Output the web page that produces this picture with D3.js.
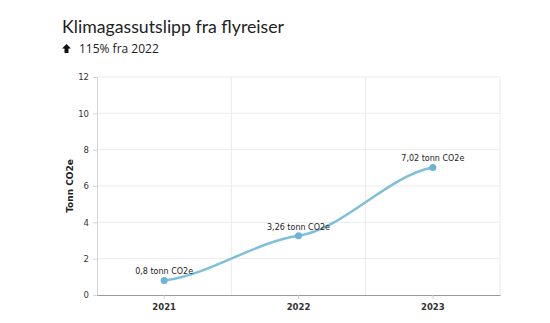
<!DOCTYPE html>
<html><head><meta charset="utf-8">
<script src="https://cdn.jsdelivr.net/npm/d3@7"></script>
<style>body{margin:0;background:#fff;}svg{display:block;}</style>
</head><body>
<svg id="c" width="550" height="323"></svg>
<script>
const years = ["2021", "2022", "2023"];
const values = [0.8, 3.26, 7.02];
const labels = ["0,8 tonn CO2e", "3,26 tonn CO2e", "7,02 tonn CO2e"];
const yTicks = [0, 2, 4, 6, 8, 10, 12];
const title = "Klimagassutslipp fra flyreiser";
const subtitle = "115% fra 2022";
const yTitle = "Tonn CO2e";

const svg = d3.select("#c");
const m = {l: 97, r: 500, t: 77, b: 295};
const x = d3.scaleBand().domain(years).range([m.l, m.r]);
const y = d3.scaleLinear().domain([0, 12]).range([m.b, m.t]);
const cx = d => x(d) + x.bandwidth() / 2;
const font = "Verdana, DejaVu Sans, sans-serif";

// grid
svg.append("g").selectAll("line").data(yTicks.filter(t => t > 0)).join("line")
  .attr("x1", m.l).attr("x2", m.r).attr("y1", d => y(d)).attr("y2", d => y(d))
  .attr("stroke", "#ebebeb").attr("stroke-width", 1);
svg.append("g").selectAll("line").data(years).join("line")
  .attr("x1", d => x(d) + x.bandwidth()).attr("x2", d => x(d) + x.bandwidth())
  .attr("y1", m.t).attr("y2", m.b).attr("stroke", "#ebebeb");

// y axis
const ya = svg.append("g").attr("transform", `translate(${m.l},0)`)
  .call(d3.axisLeft(y).tickValues(yTicks).tickSize(4).tickPadding(4));
ya.select(".domain").attr("stroke", "#d6d6d6");
ya.selectAll(".tick line").attr("stroke", "#d6d6d6");
ya.selectAll("text").attr("font-family", font).attr("font-size", 8.5).attr("fill", "#333");

// x axis
const xa = svg.append("g").attr("transform", `translate(0,${m.b})`)
  .call(d3.axisBottom(x).tickSize(4).tickPadding(5).tickSizeOuter(0));
xa.select(".domain").attr("stroke", "#9a9a9a");
xa.selectAll(".tick line").attr("stroke", "#cfcfcf");
xa.selectAll("text").attr("font-family", font).attr("font-size", 8.5).attr("font-weight", "bold").attr("fill", "#333");

// y title
svg.append("text").attr("transform", `translate(73,${(m.t + m.b) / 2}) rotate(-90)`)
  .attr("text-anchor", "middle").attr("font-family", font)
  .attr("font-size", 9).attr("font-weight", "bold").attr("fill", "#222").text(yTitle);

// smooth line: Hermite spline with damped tangents (S-shaped segments)
const pts = years.map((d, i) => [cx(d), y(values[i])]);
function smooth(p, f) {
  const n = p.length;
  const tan = p.map((pt, i) => {
    const a = p[Math.max(0, i - 1)], b = p[Math.min(n - 1, i + 1)];
    return f * (b[1] - a[1]) / (b[0] - a[0]);
  });
  const path = d3.path();
  path.moveTo(p[0][0], p[0][1]);
  for (let i = 1; i < n; i++) {
    const h = (p[i][0] - p[i - 1][0]) / 3;
    path.bezierCurveTo(p[i - 1][0] + h, p[i - 1][1] + tan[i - 1] * h,
                       p[i][0] - h, p[i][1] - tan[i] * h, p[i][0], p[i][1]);
  }
  return path.toString();
}
svg.append("path").attr("d", smooth(pts, 0.35))
  .attr("fill", "none").attr("stroke", "#7fbfdc").attr("stroke-width", 2.5);
svg.append("g").selectAll("circle").data(pts).join("circle")
  .attr("cx", d => d[0]).attr("cy", d => d[1]).attr("r", 3.5).attr("fill", "#6db3d6");
svg.append("g").selectAll("text").data(pts).join("text")
  .attr("x", d => d[0]).attr("y", d => d[1] - 6).attr("text-anchor", "middle")
  .attr("font-family", font).attr("font-size", 8).attr("fill", "#222")
  .text((d, i) => labels[i]);

// titles
svg.append("text").attr("x", 62).attr("y", 33).attr("font-family", "Lato, sans-serif")
  .attr("font-size", 18).attr("fill", "#222")
  .attr("textLength", 222).attr("lengthAdjust", "spacingAndGlyphs").text(title);
svg.append("path").attr("d", "M66.5,44 L71,48.5 L68.5,48.5 L68.5,53 L64.5,53 L64.5,48.5 L62,48.5 Z").attr("fill", "#111");
svg.append("text").attr("x", 79).attr("y", 53).attr("font-family", "Open Sans, sans-serif")
  .attr("font-size", 12).attr("fill", "#222").text(subtitle);
</script>
</body></html>
